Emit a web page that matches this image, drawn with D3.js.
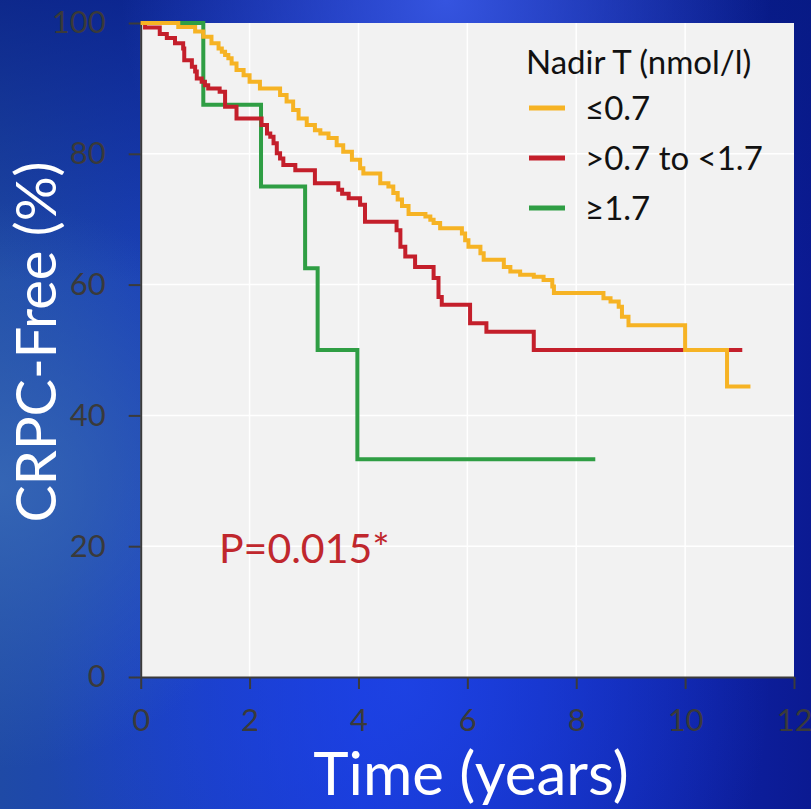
<!DOCTYPE html>
<html>
<head>
<meta charset="utf-8">
<script src="https://cdn.jsdelivr.net/npm/d3@7"></script>
<style>
  html, body { margin: 0; padding: 0; background: #0c2296; }
  svg { display: block; font-family: Lato, "Open Sans", sans-serif; }
</style>
</head>
<body>
<div id="chart"></div>
<script>
// Kaplan-Meier steps: time (years) and % CRPC-free after each drop
const lowTime = [0, 0.69, 1.0, 1.15, 1.3, 1.43, 1.49, 1.55, 1.61, 1.67, 1.76, 1.89, 2.0, 2.19, 2.56, 2.68, 2.8, 2.9, 3.05, 3.2, 3.3, 3.45, 3.6, 3.72, 3.88, 4.03, 4.09, 4.4, 4.55, 4.64, 4.72, 4.8, 4.92, 5.23, 5.32, 5.38, 5.5, 5.9, 5.96, 6.02, 6.24, 6.3, 6.67, 6.79, 6.97, 7.22, 7.4, 7.56, 7.59, 8.5, 8.63, 8.78, 8.84, 8.96, 10.0, 10.77, 11.2];
const lowSurv = [100, 99.4, 98.7, 97.9, 96.9, 96.1, 95.6, 95.1, 94.6, 93.8, 92.8, 92.0, 91.0, 90.0, 89.0, 88.0, 86.7, 85.4, 84.4, 83.6, 83.1, 82.4, 81.3, 80.3, 79.1, 77.8, 77.0, 75.5, 75.0, 74.0, 73.0, 72.0, 70.8, 70.4, 69.9, 69.4, 68.6, 67.8, 66.8, 65.8, 64.8, 63.8, 62.7, 62.0, 61.5, 61.2, 60.7, 59.7, 58.7, 57.9, 57.4, 56.6, 55.1, 53.8, 50.0, 44.4, 44.4];

const midTime = [0, 0.08, 0.35, 0.48, 0.63, 0.78, 0.8, 0.94, 1.0, 1.03, 1.12, 1.18, 1.24, 1.45, 1.55, 1.76, 2.22, 2.32, 2.38, 2.44, 2.5, 2.56, 2.62, 2.84, 3.2, 3.63, 3.7, 3.82, 4.03, 4.12, 4.7, 4.77, 4.86, 5.04, 5.38, 5.47, 5.53, 6.05, 6.35, 7.22, 11.05];
const midSurv = [100, 99.3, 98.3, 97.7, 96.9, 96.1, 94.3, 93.3, 92.6, 91.5, 91.0, 90.5, 90.0, 89.5, 87.2, 85.4, 84.4, 83.1, 82.6, 81.6, 80.1, 79.3, 78.3, 77.5, 75.5, 74.5, 73.9, 73.2, 72.2, 69.6, 68.3, 65.8, 64.3, 62.7, 61.0, 58.1, 56.9, 54.1, 52.8, 50.0, 50.0];

const highTime = [0, 1.15, 2.21, 3.02, 3.25, 3.98, 8.35];
const highSurv = [100, 87.5, 75, 62.5, 50, 33.3, 33.3];

const groupNames = ["\u22640.7", ">0.7 to <1.7", "\u22651.7"];
const groupColors = ["#f6b324", "#c41f2b", "#2f9e44"];
const xTicks = [0, 2, 4, 6, 8, 10, 12];
const yTicks = [0, 20, 40, 60, 80, 100];

const width = 811;
const height = 809;
const margin = {top: 23, left: 140.7, right: 17, bottom: 132};

let svg = d3.select("#chart")
            .append("svg")
            .attr("width", width)
            .attr("height", height);

// blue slide background
let defs = svg.append("defs");
let bg = defs.append("linearGradient").attr("id", "bg")
    .attr("x1", "0").attr("y1", "0").attr("x2", "1").attr("y2", "0");
bg.append("stop").attr("offset", "0").attr("stop-color", "#1f4aa6");
bg.append("stop").attr("offset", "0.45").attr("stop-color", "#1536d2");
bg.append("stop").attr("offset", "1").attr("stop-color", "#0b1a92");

let glow = defs.append("radialGradient").attr("id", "glow")
    .attr("cx", "0.5").attr("cy", "0.85").attr("r", "0.45");
glow.append("stop").attr("offset", "0").attr("stop-color", "#1f45e8").attr("stop-opacity", 0.8);
glow.append("stop").attr("offset", "1").attr("stop-color", "#1f45e8").attr("stop-opacity", 0);

let topGlow = defs.append("radialGradient").attr("id", "topglow")
    .attr("cx", "0.55").attr("cy", "0").attr("r", "0.4");
topGlow.append("stop").attr("offset", "0").attr("stop-color", "#3a5ae8").attr("stop-opacity", 0.9);
topGlow.append("stop").attr("offset", "1").attr("stop-color", "#3a5ae8").attr("stop-opacity", 0);

let leftGlow = defs.append("radialGradient").attr("id", "leftglow")
    .attr("cx", "0").attr("cy", "0.6").attr("r", "0.35");
leftGlow.append("stop").attr("offset", "0").attr("stop-color", "#3a6cb8").attr("stop-opacity", 0.8);
leftGlow.append("stop").attr("offset", "1").attr("stop-color", "#3a6cb8").attr("stop-opacity", 0);

let darkTop = defs.append("linearGradient").attr("id", "darktop")
    .attr("x1", "0").attr("y1", "0").attr("x2", "0").attr("y2", "1");
darkTop.append("stop").attr("offset", "0").attr("stop-color", "#061a80").attr("stop-opacity", 0.7);
darkTop.append("stop").attr("offset", "0.35").attr("stop-color", "#061a80").attr("stop-opacity", 0);

svg.append("rect").attr("width", width).attr("height", height).attr("fill", "url(#bg)");
svg.append("rect").attr("width", width).attr("height", height).attr("fill", "url(#darktop)");
svg.append("rect").attr("width", width).attr("height", height).attr("fill", "url(#glow)");
svg.append("rect").attr("width", width).attr("height", height).attr("fill", "url(#topglow)");
svg.append("rect").attr("width", width).attr("height", height).attr("fill", "url(#leftglow)");

let xScale = d3.scaleLinear()
            .domain([0, 12])
            .range([margin.left, width - margin.right]);

let yScale = d3.scaleLinear()
            .domain([0, 100])
            .range([height - margin.bottom, margin.top]);

// plot panel
svg.append("rect")
    .attr("x", xScale(0))
    .attr("y", yScale(100))
    .attr("width", xScale(12) - xScale(0))
    .attr("height", yScale(0) - yScale(100))
    .attr("fill", "#f2f2f2");

// grid
svg.append("g").selectAll("line")
    .data(xTicks.slice(1, -1))
    .enter()
    .append("line")
    .attr("x1", function(d) {return xScale(d);})
    .attr("x2", function(d) {return xScale(d);})
    .attr("y1", yScale(0))
    .attr("y2", yScale(100))
    .style("stroke", "#ffffff")
    .style("stroke-width", 1.5);

svg.append("g").selectAll("line")
    .data(yTicks.slice(1, -1))
    .enter()
    .append("line")
    .attr("x1", xScale(0))
    .attr("x2", xScale(12))
    .attr("y1", function(d) {return yScale(d);})
    .attr("y2", function(d) {return yScale(d);})
    .style("stroke", "#ffffff")
    .style("stroke-width", 1.5);

// axes
let xAxis = svg.append("g")
    .attr("transform", "translate(0," + yScale(0) + ")")
    .call(d3.axisBottom(xScale).tickValues(xTicks).tickSize(12).tickPadding(20).tickSizeOuter(0));

let yAxis = svg.append("g")
    .attr("transform", "translate(" + xScale(0) + ",0)")
    .call(d3.axisLeft(yScale).tickValues(yTicks).tickSize(12).tickPadding(23).tickSizeOuter(0));

[xAxis, yAxis].forEach(function(ax) {
    ax.select(".domain").style("stroke", "#3b3b3b").style("stroke-width", 2);
    ax.selectAll(".tick line").style("stroke", "#3b3b3b").style("stroke-width", 2);
    ax.selectAll(".tick text")
        .style("fill", "#3a3a3a")
        .style("font-size", "31px")
        .style("font-family", "Lato, sans-serif");
});

// curves
const groups = [
    {time: lowTime, surv: lowSurv},
    {time: midTime, surv: midSurv},
    {time: highTime, surv: highSurv}
];

let line = d3.line()
    .x(function(d) {return xScale(d[0]);})
    .y(function(d) {return yScale(d[1]);})
    .curve(d3.curveStepAfter);

// draw green first, then red, then yellow on top
[2, 1, 0].forEach(function(i) {
    let pts = groups[i].time.map(function(t, j) {return [t, groups[i].surv[j]];});
    svg.append("path")
        .datum(pts)
        .attr("d", line)
        .attr("fill", "none")
        .style("stroke", groupColors[i])
        .style("stroke-width", 4);
});

// legend
svg.append("text")
    .attr("x", 526)
    .attr("y", 62)
    .attr("dy", "0.35em")
    .style("font-size", "33px")
    .style("fill", "#111111")
    .text("Nadir T (nmol/l)");

let legend = svg.append("g").selectAll("g")
    .data(groupNames)
    .enter()
    .append("g")
    .attr("transform", function(d, i) {return "translate(529," + (108 + i * 50) + ")";});

legend.append("line")
    .attr("x1", 0)
    .attr("x2", 36)
    .style("stroke", function(d, i) {return groupColors[i];})
    .style("stroke-width", 5);

legend.append("text")
    .attr("x", 56)
    .attr("dy", "0.35em")
    .style("font-size", "33px")
    .style("fill", "#111111")
    .text(function(d) {return d;});

// p value
svg.append("text")
    .attr("x", 219)
    .attr("y", 549)
    .attr("dy", "0.35em")
    .style("font-size", "41px")
    .style("fill", "#c0272d")
    .text("P=0.015*");

// axis titles
svg.append("text")
    .attr("x", 471)
    .attr("y", 795)
    .attr("text-anchor", "middle")
    .style("font-size", "60px")
    .style("fill", "#ffffff")
    .text("Time (years)");

svg.append("text")
    .attr("transform", "translate(56,342) rotate(-90)")
    .attr("text-anchor", "middle")
    .style("font-size", "56px")
    .style("fill", "#ffffff")
    .text("CRPC-Free (%)");
</script>
</body>
</html>
